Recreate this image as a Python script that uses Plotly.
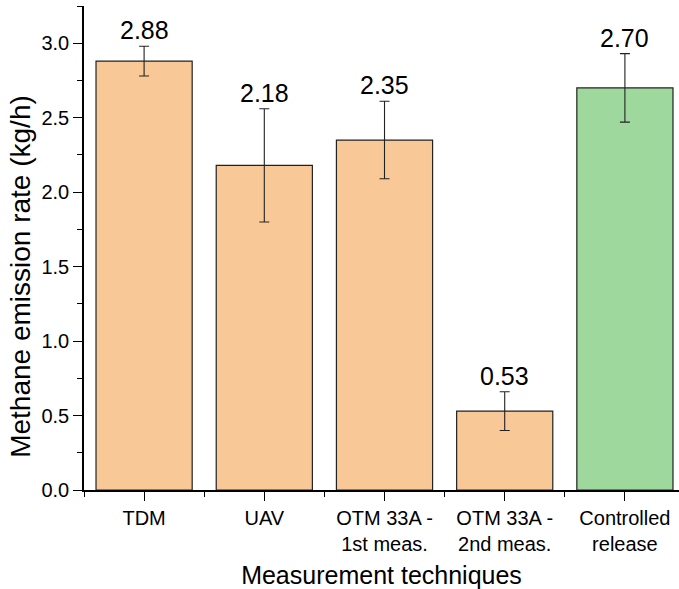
import plotly.graph_objects as go

# Methane emission rate by measurement technique
categories = ["TDM", "UAV", "OTM 33A -<br>1st meas.", "OTM 33A -<br>2nd meas.", "Controlled<br>release"]
emission_rate = [2.88, 2.18, 2.35, 0.53, 2.70]
error = [0.10, 0.38, 0.26, 0.13, 0.23]
bar_colors = ["#F9C897", "#F9C897", "#F9C897", "#F9C897", "#9ED89D"]

font_family = "Liberation Sans, Arial, sans-serif"
x_pos = list(range(len(categories)))

fig = go.Figure()
fig.add_trace(go.Bar(
    x=x_pos,
    y=emission_rate,
    width=0.8,
    marker=dict(color=bar_colors, line=dict(color="#222222", width=1.2)),
    error_y=dict(type="data", array=error, visible=True, color="#222222",
                 thickness=1.1, width=5),
    showlegend=False,
))

# Value labels sit just above the upper end of each error bar
for xp, v, e in zip(x_pos, emission_rate, error):
    fig.add_annotation(
        x=xp, y=v + e, xref="x", yref="y",
        text=f"{v:.2f}", showarrow=False,
        yanchor="bottom", yshift=0,
        font=dict(family=font_family, size=25, color="black"),
    )

# Y-axis title, placed a little below the axis midpoint
fig.add_annotation(
    text="Methane emission rate (kg/h)",
    xref="paper", yref="paper", x=-0.108, y=0.442,
    xanchor="center", yanchor="middle", textangle=-90,
    showarrow=False,
    font=dict(family=font_family, size=28, color="black"),
)

fig.update_layout(
    width=679, height=589,
    margin=dict(l=84, r=0, t=6, b=99),
    plot_bgcolor="white", paper_bgcolor="white",
    font=dict(family=font_family, color="black"),
    bargap=0.2,
)

fig.update_xaxes(
    range=[-0.5, 4.45],
    tickmode="array", tickvals=x_pos, ticktext=categories,
    tickfont=dict(size=20, family=font_family),
    ticks="outside", ticklen=9, tickwidth=1.3, tickcolor="black",
    minor=dict(tickmode="array", tickvals=[-0.5, 0.5, 1.5, 2.5, 3.5],
               ticks="outside", ticklen=5, tickwidth=1.3, tickcolor="black"),
    showline=True, linecolor="black", linewidth=1.5,
    showgrid=False, zeroline=False,
    title=dict(text="Measurement techniques", font=dict(size=25, family=font_family),
               standoff=14),
)

fig.update_yaxes(
    range=[0, 3.25],
    tickmode="array", tickvals=[0, 0.5, 1.0, 1.5, 2.0, 2.5, 3.0],
    ticktext=["0.0", "0.5", "1.0", "1.5", "2.0", "2.5", "3.0"],
    tickfont=dict(size=20, family=font_family),
    ticks="outside", ticklen=9, tickwidth=1.3, tickcolor="black",
    minor=dict(tickmode="array", tickvals=[0.25, 0.75, 1.25, 1.75, 2.25, 2.75, 3.25],
               ticks="outside", ticklen=5, tickwidth=1.3, tickcolor="black"),
    showline=True, linecolor="black", linewidth=1.5,
    showgrid=False, zeroline=False,
)

fig.write_html("out.html")
